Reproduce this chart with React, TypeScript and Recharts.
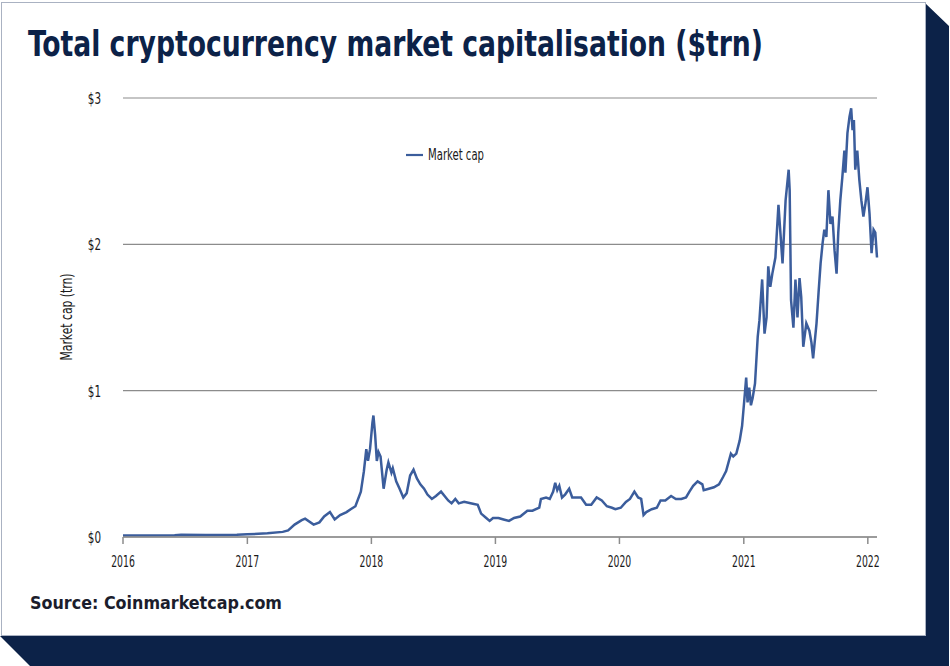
import { LineChart, Line, XAxis, YAxis, CartesianGrid, Legend } from "recharts";

const dates = [
  "2016-01-01", "2016-03-01", "2016-06-01", "2016-06-20", "2016-09-01", "2016-12-01",
  "2017-01-01", "2017-03-01", "2017-04-15", "2017-05-01", "2017-05-20", "2017-06-10",
  "2017-06-20", "2017-07-15", "2017-08-01", "2017-08-15", "2017-09-01", "2017-09-15",
  "2017-10-01", "2017-10-20", "2017-11-01", "2017-11-15", "2017-12-01", "2017-12-10",
  "2017-12-17", "2017-12-22", "2017-12-28", "2018-01-04", "2018-01-07", "2018-01-12",
  "2018-01-17", "2018-01-22", "2018-01-28", "2018-02-06", "2018-02-15", "2018-02-20",
  "2018-03-01", "2018-03-05", "2018-03-15", "2018-03-25", "2018-04-05", "2018-04-15",
  "2018-04-25", "2018-05-05", "2018-05-15", "2018-05-25", "2018-06-05", "2018-06-15",
  "2018-06-28", "2018-07-10", "2018-07-25", "2018-08-15", "2018-08-25", "2018-09-05",
  "2018-09-15", "2018-10-01", "2018-10-20", "2018-11-10", "2018-11-20", "2018-12-05",
  "2018-12-15", "2018-12-25", "2019-01-10", "2019-01-25", "2019-02-10", "2019-02-25",
  "2019-03-15", "2019-04-05", "2019-04-20", "2019-05-10", "2019-05-15", "2019-05-30",
  "2019-06-10", "2019-06-20", "2019-06-26", "2019-07-02", "2019-07-08", "2019-07-16",
  "2019-07-25", "2019-08-06", "2019-08-15", "2019-08-28", "2019-09-10", "2019-09-25",
  "2019-10-10", "2019-10-26", "2019-11-10", "2019-11-25", "2019-12-10", "2019-12-20",
  "2020-01-05", "2020-01-20", "2020-02-01", "2020-02-14", "2020-02-25", "2020-03-05",
  "2020-03-12", "2020-03-20", "2020-04-05", "2020-04-20", "2020-05-01", "2020-05-15",
  "2020-06-01", "2020-06-15", "2020-07-01", "2020-07-15", "2020-07-25", "2020-08-05",
  "2020-08-18", "2020-09-01", "2020-09-05", "2020-09-20", "2020-10-05", "2020-10-20",
  "2020-11-01", "2020-11-10", "2020-11-24", "2020-12-01", "2020-12-10", "2020-12-20",
  "2020-12-27", "2021-01-03", "2021-01-08", "2021-01-12", "2021-01-17", "2021-01-22",
  "2021-01-27", "2021-02-03", "2021-02-11", "2021-02-16", "2021-02-24", "2021-03-03",
  "2021-03-09", "2021-03-14", "2021-03-20", "2021-03-26", "2021-04-04", "2021-04-13",
  "2021-04-25", "2021-05-04", "2021-05-13", "2021-05-16", "2021-05-20", "2021-05-27",
  "2021-06-02", "2021-06-08", "2021-06-14", "2021-06-19", "2021-06-25", "2021-07-04",
  "2021-07-13", "2021-07-19", "2021-07-24", "2021-08-03", "2021-08-09", "2021-08-15",
  "2021-08-21", "2021-08-26", "2021-09-01", "2021-09-07", "2021-09-13", "2021-09-19",
  "2021-09-25", "2021-10-01", "2021-10-06", "2021-10-12", "2021-10-18", "2021-10-24",
  "2021-10-27", "2021-11-02", "2021-11-08", "2021-11-13", "2021-11-17", "2021-11-21",
  "2021-11-25", "2021-12-01", "2021-12-07", "2021-12-13", "2021-12-19", "2021-12-25",
  "2021-12-31", "2022-01-06", "2022-01-12", "2022-01-18", "2022-01-23", "2022-01-28",
];

const marketCap = [
  0.01, 0.01, 0.012, 0.016, 0.013, 0.015,
  0.018, 0.025, 0.035, 0.045, 0.085, 0.115,
  0.125, 0.085, 0.1, 0.14, 0.17, 0.12,
  0.15, 0.17, 0.19, 0.21, 0.31, 0.45,
  0.6, 0.52, 0.6, 0.78, 0.83, 0.7,
  0.52, 0.58, 0.55, 0.33, 0.46, 0.51,
  0.44, 0.47, 0.38, 0.33, 0.27, 0.3,
  0.42, 0.46, 0.4, 0.36, 0.33, 0.29,
  0.26, 0.28, 0.31, 0.25, 0.23, 0.26,
  0.23, 0.24, 0.23, 0.22, 0.16, 0.13,
  0.11, 0.13, 0.13, 0.12, 0.11, 0.13,
  0.14, 0.18, 0.18, 0.2, 0.26, 0.27,
  0.26, 0.31, 0.37, 0.32, 0.35, 0.27,
  0.29, 0.33, 0.27, 0.27, 0.27, 0.22,
  0.22, 0.27, 0.25, 0.21, 0.2, 0.19,
  0.2, 0.24, 0.26, 0.31, 0.27, 0.26,
  0.15, 0.17, 0.19, 0.2, 0.25, 0.25,
  0.28, 0.26, 0.26, 0.27, 0.31, 0.35,
  0.38, 0.36, 0.32, 0.33, 0.34, 0.36,
  0.41, 0.45, 0.57, 0.55, 0.57, 0.66,
  0.76, 0.95, 1.09, 0.92, 1.02, 0.9,
  0.95, 1.05, 1.37, 1.48, 1.76, 1.39,
  1.5, 1.85, 1.71, 1.8, 1.91, 2.27,
  1.87, 2.3, 2.51, 2.37, 1.62, 1.43,
  1.76, 1.5, 1.77, 1.64, 1.3, 1.46,
  1.41, 1.33, 1.22, 1.46, 1.67, 1.87,
  2.01, 2.1, 2.05, 2.37, 2.14, 2.19,
  1.96, 1.8, 2.08, 2.3, 2.46, 2.64,
  2.49, 2.76, 2.87, 2.93, 2.78, 2.85,
  2.51, 2.64, 2.44, 2.3, 2.19, 2.28,
  2.39, 2.21, 1.94, 2.1, 2.08, 1.91,
];

const yearTicks = ["2016", "2017", "2018", "2019", "2020", "2021", "2022"];
const valueTicks = [0, 1, 2, 3];

const data = dates.map((d, i) => ({ t: Date.parse(d), cap: marketCap[i] }));
const xTicks = yearTicks.map((y) => Date.UTC(Number(y), 0, 1));
const xEnd = Date.UTC(2022, 0, 28);

const NAVY = "#0c2248";
const LINE = "#3b5d9c";
const TXT = "#1a1a1a";
const narrow = "'DejaVu Sans Condensed', 'Liberation Sans Narrow', sans-serif";

// the source uses a very condensed face; squeeze the text to its width
function XTick({ x, y, payload }: any) {
  const s = String(new Date(payload.value).getUTCFullYear());
  return (
    <text x={x} y={y} dy="0.71em" textAnchor="middle" fill={TXT} fontSize={16} fontFamily={narrow}
      textLength={s.length * 5.9} lengthAdjust="spacingAndGlyphs">
      {s}
    </text>
  );
}

function YTick({ x, y, payload }: any) {
  const s = `$${payload.value}`;
  return (
    <text x={x} y={y} dy="0.355em" textAnchor="end" fill={TXT} fontSize={16.5} fontFamily={narrow}
      textLength={s.length * 6.6} lengthAdjust="spacingAndGlyphs">
      {s}
    </text>
  );
}

function LegendBox({ payload }: any) {
  return (
    <svg width={130} height={30} style={{ overflow: "visible" }}>
      {(payload || []).map((p: any) => (
        <g key={p.value}>
          <line x1={6} x2={23} y1={15} y2={15} stroke={LINE} strokeWidth={2.2} />
          <text x={28} y={15} dy="0.355em" fill={TXT} fontSize={15} fontFamily={narrow}
            textLength={56} lengthAdjust="spacingAndGlyphs">
            {p.value}
          </text>
        </g>
      ))}
    </svg>
  );
}

export default function App() {
  return (
    <div style={{ position: "absolute", left: 0, top: 0, width: 950, height: 666, background: "#fff", overflow: "hidden" }}>
      <svg width={950} height={666} style={{ position: "absolute", left: 0, top: 0 }}>
        <polygon points="925,3 949,26 949,666 30,666 0,636 925,636" fill={NAVY} />
        <rect x={1.5} y={2.5} width={924} height={633} fill="#fff" stroke="#aab2c2" strokeWidth={1} />
        <text x={28} y={56} fontFamily="'DejaVu Sans Condensed', 'Liberation Sans Narrow', sans-serif"
          fontWeight={700} fontSize={36} fill={NAVY} textLength={735} lengthAdjust="spacingAndGlyphs">
          Total cryptocurrency market capitalisation ($trn)
        </text>
        <text x={30} y={609} fontFamily="'DejaVu Sans Condensed', 'Open Sans', sans-serif"
          fontWeight={700} fontSize={18} fill="#1b1d2c" textLength={252} lengthAdjust="spacingAndGlyphs">
          Source: Coinmarketcap.com
        </text>
        <text transform="translate(72,317) rotate(-90)" textAnchor="middle" fill={TXT} fontSize={15}
          fontFamily={narrow} textLength={87} lengthAdjust="spacingAndGlyphs">
          Market cap (trn)
        </text>
      </svg>
      <div style={{ position: "absolute", left: 0, top: 0 }}>
        <LineChart width={950} height={666} data={data} margin={{ top: 98, right: 73, bottom: 0, left: 0 }}>
          <CartesianGrid horizontal vertical={false} stroke="#8c8c8c" strokeWidth={1.2} />
          <XAxis
            dataKey="t"
            type="number"
            scale="time"
            domain={[xTicks[0], xEnd]}
            ticks={xTicks}
            height={129}
            stroke="#8c8c8c"
            strokeWidth={1.5}
            tickSize={7}
            tickMargin={12}
            tick={<XTick />}
          />
          <YAxis
            domain={[0, 3]}
            ticks={valueTicks}
            width={123}
            axisLine={false}
            tickLine={false}
            tickMargin={16}
            tick={<YTick />}
          />
          <Legend
            layout="horizontal"
            verticalAlign="middle"
            align="center"
            wrapperStyle={{ top: 140, left: 400, width: 130, height: 30 }}
            content={<LegendBox />}
          />
          <Line
            type="linear"
            dataKey="cap"
            name="Market cap"
            stroke={LINE}
            strokeWidth={2.5}
            dot={false}
            isAnimationActive={false}
          />
        </LineChart>
      </div>
    </div>
  );
}
